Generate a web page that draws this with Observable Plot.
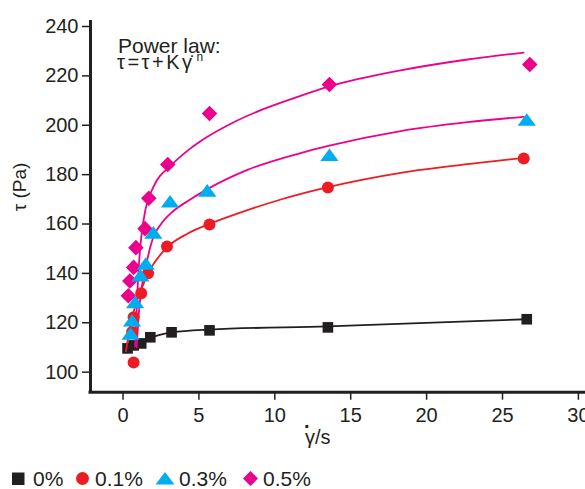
<!DOCTYPE html>
<html><head><meta charset="utf-8">
<script src="https://cdn.jsdelivr.net/npm/d3@7"></script>
<script src="https://cdn.jsdelivr.net/npm/@observablehq/plot@0.6"></script>
<style>
html,body{margin:0;padding:0;background:#fff;overflow:hidden;width:585px;height:489px;}
#wrap{position:relative;width:585px;height:489px;font-family:"Liberation Sans",Arial,sans-serif;color:#231f20;}
#chart{position:absolute;left:0;top:0;}
.ov{position:absolute;left:0;top:0;pointer-events:none;font-family:"Liberation Sans",Arial,sans-serif;fill:#231f20;}
</style></head><body>
<div id="wrap"><div id="chart"></div>
<svg class="ov" width="585" height="489">
 <text x="118" y="52.5" font-size="21">Power law:</text>
 <text x="117" y="69" font-size="20" letter-spacing="2.5">τ=τ+Kγ̇<tspan dx="2" dy="-8" font-size="12" letter-spacing="0">n</tspan></text>
 <text transform="translate(26,187) rotate(-90)" text-anchor="middle" font-size="19">τ (Pa)</text>
 <text x="305" y="444" font-size="20">γ/s<tspan x="304" y="428" font-size="20" font-weight="bold">.</tspan></text>
 <g font-size="21">
  <rect x="12" y="472.5" width="12.5" height="12.5" fill="#231f20"/>
  <text x="33" y="485.5">0%</text>
  <circle cx="82.5" cy="478.5" r="6.5" fill="#ed1c24"/>
  <text x="95" y="485.5">0.1%</text>
  <polygon points="165,472 174.5,484.5 155.5,484.5" fill="#00aeef"/>
  <text x="179" y="485.5">0.3%</text>
  <polygon points="250.5,471 258,478.5 250.5,486 243,478.5" fill="#ec008c"/>
  <text x="263" y="485.5">0.5%</text>
 </g>
</svg>
</div>
<script>
// tick labels
const xTicks = [0, 5, 10, 15, 20, 25, 30];
const yTicks = [100, 120, 140, 160, 180, 200, 220, 240];
const xDomain = [-2.34, 30.27];
const yDomain = [89.45, 240];

// 0 % (measured points)
const x0 = [0.1, 0.5, 1.0, 1.6, 3.0, 5.5, 13.3, 26.4];
const y0 = [107.2, 108.4, 109.2, 111.7, 113.7, 114.5, 115.7, 119.0];
// 0.1 %
const x1 = [0.5, 0.4, 0.5, 1.0, 1.45, 2.7, 5.5, 13.3, 26.2];
const y1 = [101.5, 113.8, 119.8, 129.5, 137.6, 148.5, 157.4, 172.4, 184.1];
// 0.3 %
const x2 = [0.3, 0.4, 0.6, 0.95, 1.3, 1.8, 2.9, 5.35, 13.4, 26.4];
const y2 = [113.2, 118.6, 126.0, 136.8, 141.6, 154.2, 166.8, 171.2, 185.6, 199.9];
// 0.5 %
const x3 = [0.15, 0.25, 0.5, 0.65, 1.25, 1.5, 2.75, 5.5, 13.4, 26.6];
const y3 = [128.5, 134.5, 140.0, 148.0, 155.7, 168.0, 181.7, 202.3, 214.1, 222.2];

// fitted power-law curves
const fx0 = [0, 0.5, 1.1, 1.7, 3.0, 5.5, 13.3, 26.4];
const fy0 = [105.5, 108.0, 109.6, 111.6, 113.6, 114.8, 116.1, 119.0];
const fx1 = [0, 0.2, 0.5, 1.0, 1.45, 2.6, 4.1, 5.5, 8.0, 10.2, 13.3, 18.1, 22.5, 26.2];
const fy1 = [106, 114, 122, 131, 137.5, 147.5, 153.8, 157.6, 163.2, 167.5, 172.5, 178.3, 181.8, 184.4];
const fx2 = [0.7, 0.86, 1.3, 1.8, 2.3, 3.0, 4.1, 5.3, 8.0, 11.5, 13.4, 18.1, 22.5, 26.2];
const fy2 = [107.6, 122.6, 140, 152.3, 157.5, 162.2, 167, 171.5, 179.5, 186.3, 189.3, 195.2, 198.8, 201];
const fx3 = [0.6, 0.72, 0.86, 1.0, 1.3, 1.8, 3.0, 4.1, 5.0, 7.0, 9.0, 11.5, 13.4, 18.1, 22.5, 26.2];
const fy3 = [108, 126, 142, 152, 164, 172.5, 181.5, 187.5, 191.5, 198.5, 204, 209.5, 213.3, 219.8, 224.2, 227];

const series = ["0%", "0.1%", "0.3%", "0.5%"];
const colors = {k: "#231f20", r: "#ed1c24", b: "#00aeef", m: "#ec008c"};

const tbl = (xs, ys) => xs.map((x, i) => ({x, y: ys[i]}));
const p0 = tbl(x0, y0), p1 = tbl(x1, y1), p2 = tbl(x2, y2), p3 = tbl(x3, y3);
const f0 = tbl(fx0, fy0), f1 = tbl(fx1, fy1), f2 = tbl(fx2, fy2), f3 = tbl(fx3, fy3);

const flatTriangle = {
  draw(ctx, size) {
    const r = Math.sqrt(size / Math.PI);
    ctx.moveTo(0, -r);
    ctx.lineTo(1.45 * r, r);
    ctx.lineTo(-1.45 * r, r);
    ctx.closePath();
  }
};

const lineOpts = {x: "x", y: "y", curve: "monotone-x", strokeWidth: 1.8};

const chart = Plot.plot({
  width: 585, height: 455,
  marginLeft: 90, marginRight: 0, marginTop: 20, marginBottom: 63.3,
  style: {fontFamily: "Liberation Sans, Arial, sans-serif", fontSize: "20px", color: "#231f20", background: "white"},
  x: {domain: xDomain},
  y: {domain: yDomain},
  marks: [
    Plot.axisX({ticks: xTicks, tickSize: 8, tickPadding: 8, strokeWidth: 1.5, label: null, fontSize: 20, dx: -3}),
    Plot.axisY({ticks: yTicks, tickSize: 8, tickPadding: 4, strokeWidth: 1.5, label: null, fontSize: 20, dy: 6}),
    Plot.ruleX([xDomain[0]], {y1: yDomain[0], y2: yDomain[1], stroke: colors.k, strokeWidth: 3}),
    Plot.ruleY([yDomain[0]], {x1: xDomain[0] - 0.1, x2: xDomain[1], stroke: colors.k, strokeWidth: 3}),
    Plot.line(f0, {...lineOpts, stroke: colors.k}),
    Plot.dot(p0, {x: "x", y: "y", symbol: "square", r: 6, fill: colors.k}),
    Plot.line(f1, {...lineOpts, stroke: colors.r}),
    Plot.line(f2, {...lineOpts, stroke: colors.m}),
    Plot.line(f3, {...lineOpts, stroke: colors.m}),
    Plot.dot(p3, {x: "x", y: "y", symbol: "diamond2", r: 7, fill: colors.m}),
    Plot.dot(p1, {x: "x", y: "y", symbol: "circle", r: 6, fill: colors.r}),
    Plot.dot(p2, {x: "x", y: "y", symbol: flatTriangle, r: 6.3, fill: colors.b})
  ]
});
document.getElementById("chart").appendChild(chart);
</script>
</body></html>
